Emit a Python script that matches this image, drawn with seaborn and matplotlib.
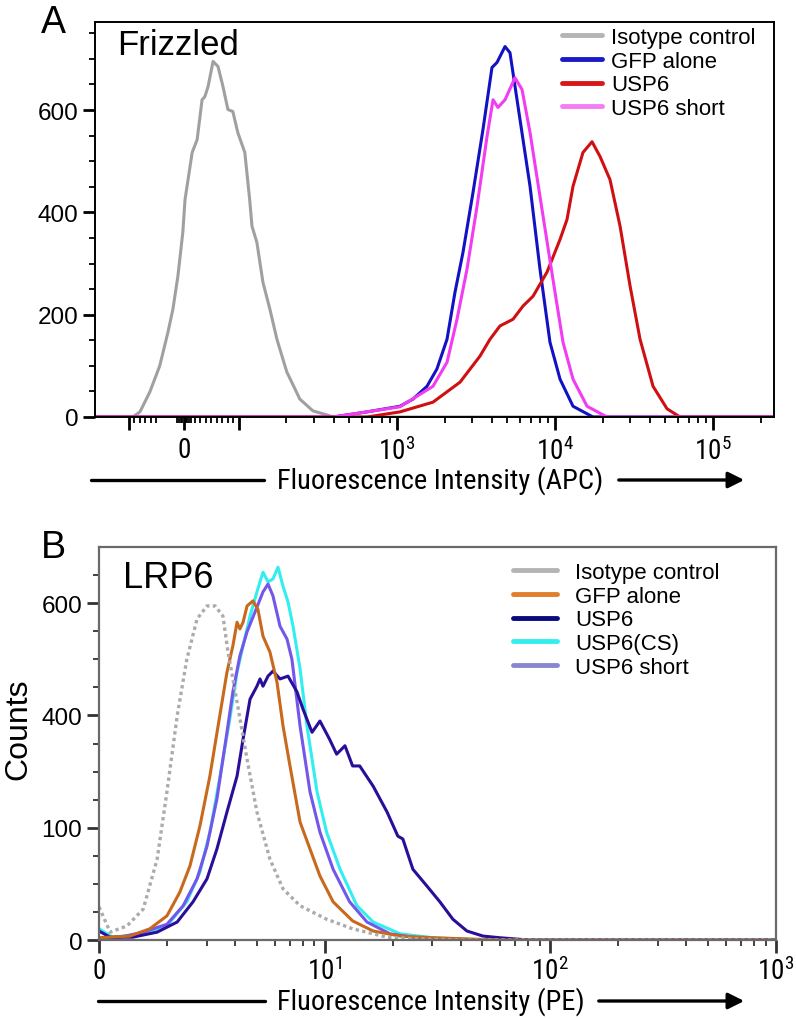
import numpy as np
import pandas as pd
import matplotlib
matplotlib.use("Agg")
import matplotlib.pyplot as plt
import seaborn as sns
from matplotlib import font_manager as fm
from matplotlib.lines import Line2D
from matplotlib.patches import FancyArrowPatch

# ---------------- data: panel A (Frizzled, APC, logicle-like axis) ----------------
A_labels = ["Isotype control", "GFP alone", "USP6", "USP6 short"]
A_colors = ["#a0a0a0", "#1212c4", "#d01010", "#f23cf2"]

A_iso_x = [-164, -93, -80, -62, -44, -29, -20, -11, -2, 2, 15, 24, 33, 38, 44, 53, 62, 71, 80, 89, 98,
           109, 117, 121, 130, 142, 157, 174, 201, 243, 294, 361, 394, 1000, 10000, 243000]
A_iso_y = [0, 0, 10, 49, 100, 166, 211, 275, 361, 425, 517, 542, 620, 626, 646, 695, 685, 646, 601, 597, 556,
           517, 425, 373, 341, 263, 211, 152, 88, 35, 12, 4, 0, 0, 0, 0]

A_gfp_x = [-164, 394, 646, 1045, 1263, 1549, 1791, 2074, 2330, 2618, 3029, 3502, 3992, 4297, 4828,
           5190, 6008, 6950, 8035, 9296, 10760, 13000, 17400, 243000]
A_gfp_y = [0, 0, 10, 21, 35, 60, 94, 152, 244, 322, 439, 562, 683, 693, 724,
           712, 581, 451, 289, 146, 74, 21, 0, 0]

A_usp6_x = [-164, 646, 1045, 1690, 2506, 3352, 3880, 4487, 5423, 6281, 7260, 8897, 10760, 11910, 13000,
            15030, 17150, 19280, 22280, 25800, 29850, 34520, 41720, 51160, 61800, 243000]
A_usp6_y = [0, 0, 10, 29, 68, 119, 152, 178, 191, 217, 236, 283, 347, 386, 451,
            517, 538, 509, 464, 373, 256, 152, 60, 16, 0, 0]

A_short_x = [-164, 394, 646, 1045, 1690, 2074, 2399, 2775, 3212, 3714, 4054, 4355, 4828, 5582, 6186,
             6950, 8035, 9707, 11240, 13000, 15950, 21340, 243000]
A_short_y = [0, 0, 10, 20, 60, 107, 191, 289, 412, 548, 620, 605, 620, 663, 640,
             556, 431, 269, 146, 74, 21, 0, 0]

A_xticks = [-100, 0, 100, 1000, 10000, 100000]
A_xticklabels = ["", "0", "", r"$\mathrm{10^{3}}$", r"$\mathrm{10^{4}}$", r"$\mathrm{10^{5}}$"]
A_xminor = [-90, -80, -70, -60, -50, -12, -9, -6, -3, 3, 6, 9, 12, 20, 30, 40, 50, 60, 70, 80, 90,
            200, 300, 400, 500, 600, 700, 800, 900, 2000, 3000, 4000, 5000, 6000, 7000, 8000, 9000,
            20000, 30000, 40000, 50000, 60000, 70000, 80000, 90000, 200000]
A_yticks = [0, 200, 400, 600]
A_yticklabels = ["0", "200", "400", "600"]

# ---------------- data: panel B (LRP6, PE, log axis) ----------------
B_labels = ["Isotype control", "GFP alone", "USP6", "USP6(CS)", "USP6 short"]
B_colors = ["#ababab", "#c8691c", "#2a0e9a", "#33eeee", "#7356ea"]
B_legend_colors = ["#b4b4b4", "#e0802e", "#0a0a80", "#33eeee", "#8888d0"]

B_iso_x = [1.0, 1.12, 1.33, 1.57, 1.81, 2.0, 2.22, 2.45, 2.72, 3.01, 3.27, 3.54, 3.73, 4.09, 4.53, 5.01,
           5.72, 6.54, 7.78, 10.2, 13.3, 18.9, 25.6, 40, 1000]
B_iso_y = [59, 14, 25, 55, 144, 264, 399, 500, 572, 595, 595, 577, 513, 424, 322, 228,
           144, 91, 61, 37, 20, 5, 2, 0, 0]

B_gfp_x = [1.0, 1.37, 1.68, 2.0, 2.28, 2.53, 2.80, 3.10, 3.37, 3.69, 3.92, 4.09, 4.21, 4.35, 4.53, 4.81,
           5.06, 5.33, 5.72, 6.15, 6.54, 7.02, 7.78, 8.61, 9.53, 10.9, 13.3, 16.4, 21.6, 30.2, 60, 1000]
B_gfp_y = [4, 7, 20, 43, 85, 132, 203, 292, 381, 477, 524, 566, 554, 566, 595, 604,
           589, 541, 513, 459, 381, 310, 210, 162, 114, 68, 34, 16, 7, 4, 0, 0]

B_usp6_x = [1.0, 1.12, 1.41, 1.81, 2.22, 2.61, 3.01, 3.33, 3.69, 4.09, 4.35, 4.67, 5.01, 5.17, 5.33, 5.61,
            5.90, 6.34, 6.88, 7.54, 8.02, 8.79, 9.53, 10.5, 11.3, 12.3, 13.3, 14.3, 16.4, 18.9, 21.1,
            22.2, 24.6, 28.4, 32.4, 37.0, 42.7, 50.3, 59.8, 80, 1000]
B_usp6_y = [16, 5, 5, 14, 32, 68, 109, 162, 228, 292, 358, 429, 452, 465, 452, 470,
            479, 465, 470, 442, 411, 370, 390, 358, 331, 346, 310, 310, 274, 228, 185,
            180, 126, 96, 68, 37, 16, 7, 4, 0, 0]

B_cs_x = [1.0, 1.15, 1.57, 2.0, 2.45, 2.80, 3.10, 3.44, 3.80, 4.09, 4.35, 4.67, 5.01, 5.33, 5.61, 5.90,
          6.21, 6.54, 6.88, 7.24, 7.78, 8.35, 9.25, 10.2, 11.7, 13.9, 16.4, 21.6, 30.2, 50, 1000]
B_cs_y = [20, 5, 11, 25, 68, 121, 192, 292, 394, 477, 524, 577, 620, 655, 638, 643,
          664, 630, 602, 559, 483, 381, 264, 192, 126, 61, 32, 11, 4, 0, 0]

B_short_x = [1.0, 1.24, 1.57, 2.0, 2.36, 2.72, 3.01, 3.33, 3.69, 3.92, 4.21, 4.53, 4.91, 5.33, 5.61, 5.90,
             6.34, 6.81, 7.16, 7.78, 8.61, 9.53, 10.9, 12.9, 15.4, 19.5, 25.6, 50, 1000]
B_short_y = [3, 5, 14, 28, 61, 109, 167, 251, 370, 442, 506, 549, 584, 620, 634, 613,
             559, 536, 500, 381, 264, 192, 126, 68, 32, 11, 4, 0, 0]

B_xticks = [1, 10, 100, 1000]
B_xticklabels = ["0", r"$\mathrm{10^{1}}$", r"$\mathrm{10^{2}}$", r"$\mathrm{10^{3}}$"]
B_yticks = [0, 200, 400, 600]
B_yticklabels = ["0", "100", "400", "600"]

# ---------------- style ----------------
sns.set_theme(style="white")
installed = {f.name for f in fm.fontManager.ttflist}
NARROW_FAM, TSIZE, LSIZE = "Liberation Sans", 18, 18.5
for cand, tsz, lsz in [("Liberation Sans Narrow", 20, 21), ("Roboto Condensed", 19.5, 20.5),
                       ("Open Sans Condensed", 19, 20)]:
    if cand in installed:
        NARROW_FAM, TSIZE, LSIZE = cand, tsz, lsz
        break

plt.rcParams["font.family"] = ["Liberation Sans", "DejaVu Sans"]
plt.rcParams["mathtext.fontset"] = "custom"
plt.rcParams["mathtext.rm"] = NARROW_FAM
plt.rcParams["mathtext.it"] = NARROW_FAM
plt.rcParams["text.color"] = "black"
plt.rcParams["axes.labelcolor"] = "black"
plt.rcParams["xtick.color"] = "black"
plt.rcParams["ytick.color"] = "black"
NARROW = [NARROW_FAM, "DejaVu Sans"]

W, H = 796, 1020
fig = plt.figure(figsize=(W / 100, H / 100), dpi=100)
fig.patch.set_facecolor("white")

def fx(px):
    return px / W

def fy(py):
    return 1 - py / H

axA = fig.add_axes([fx(95), fy(418), fx(774) - fx(95), fy(23) - fy(418)])
axB = fig.add_axes([fx(99), fy(941), fx(776) - fx(99), fy(548) - fy(941)])

# ---------------- panel A ----------------
for xs, ys, c in [(A_iso_x, A_iso_y, A_colors[0]), (A_gfp_x, A_gfp_y, A_colors[1]),
                  (A_usp6_x, A_usp6_y, A_colors[2]), (A_short_x, A_short_y, A_colors[3])]:
    sns.lineplot(x=xs, y=ys, ax=axA, color=c, lw=2.2, sort=False, estimator=None)

axA.set_xscale("symlog", linthresh=100, linscale=0.313)
axA.set_xlim(-164, 243000)
axA.set_ylim(0, 772)
axA.set_xticks(A_xticks, A_xticklabels)
axA.set_xticks(A_xminor, minor=True)
axA.set_yticks(A_yticks, A_yticklabels)
axA.set_yticks(np.arange(50, 751, 50), minor=True)
axA.set_xlabel("")
axA.set_ylabel("")
for s in axA.spines.values():
    s.set_color("black")
    s.set_linewidth(1.4)
axA.tick_params(axis="both", which="major", direction="out", length=9, width=2.0, color="black",
                labelcolor="black", bottom=True, left=True, labelsize=17.5, pad=3)
axA.tick_params(axis="both", which="minor", direction="out", length=4.5, width=1.3, color="black",
                bottom=True, left=True)
axA.tick_params(axis="x", which="major", labelsize=TSIZE, pad=5)
for lbl in axA.get_xticklabels():
    lbl.set_fontfamily(NARROW)

hA = [Line2D([0], [0], color=c, lw=3.5) for c in ["#b4b4b4", "#1a1ac8", "#d81818", "#f47cf4"]]
axA.legend(hA, A_labels, loc="upper left", bbox_to_anchor=((562 - 95) / 679, (418 - 28) / 395),
           frameon=False, fontsize=16, handlelength=1.8, handletextpad=0.4, labelspacing=0.12,
           borderpad=0, borderaxespad=0, labelcolor="black")
axA.text((117 - 95) / 679, (418 - 55) / 395, "Frizzled", transform=axA.transAxes, fontsize=25,
         ha="left", va="baseline", color="black")

# ---------------- panel B ----------------
sns.lineplot(x=B_cs_x, y=B_cs_y, ax=axB, color=B_colors[3], lw=2.2, sort=False, estimator=None)
sns.lineplot(x=B_short_x, y=B_short_y, ax=axB, color=B_colors[4], lw=2.2, sort=False, estimator=None)
sns.lineplot(x=B_usp6_x, y=B_usp6_y, ax=axB, color=B_colors[2], lw=2.2, sort=False, estimator=None)
sns.lineplot(x=B_gfp_x, y=B_gfp_y, ax=axB, color=B_colors[1], lw=2.2, sort=False, estimator=None)
sns.lineplot(x=B_iso_x, y=B_iso_y, ax=axB, color=B_colors[0], lw=2.4, sort=False, estimator=None,
             linestyle=(0, (1, 1)))

axB.set_xscale("log")
axB.set_xlim(1, 1000)
axB.set_ylim(0, 700)
axB.set_xticks(B_xticks, B_xticklabels)
axB.set_xticks([m * d for d in [1, 10, 100] for m in range(2, 10)], minor=True)
axB.xaxis.set_minor_formatter(plt.NullFormatter())
axB.set_yticks(B_yticks, B_yticklabels)
axB.set_yticks(np.arange(50, 651, 50), minor=True)
axB.set_xlabel("")
axB.set_ylabel("")
for s in axB.spines.values():
    s.set_color("#6a6a6a")
    s.set_linewidth(1.6)
axB.tick_params(axis="both", which="major", direction="out", length=9, width=2.0, color="#333333",
                labelcolor="black", bottom=True, left=True, labelsize=17.5, pad=3)
axB.tick_params(axis="both", which="minor", direction="out", length=4.5, width=1.3, color="#333333",
                bottom=True, left=True)
axB.tick_params(axis="x", which="major", labelsize=TSIZE, pad=3)
for lbl in axB.get_xticklabels():
    lbl.set_fontfamily(NARROW)

hB = [Line2D([0], [0], color=c, lw=3.5) for c in B_legend_colors]
axB.legend(hB, B_labels, loc="upper left", bbox_to_anchor=((513 - 99) / 677, (941 - 563) / 393),
           frameon=False, fontsize=16, handlelength=2.0, handletextpad=0.8, labelspacing=0.12,
           borderpad=0, borderaxespad=0, labelcolor="black")
axB.text((123 - 99) / 677, (941 - 588) / 393, "LRP6", transform=axB.transAxes, fontsize=26,
         ha="left", va="baseline", color="black")

# ---------------- figure-level annotations ----------------
fig.text(fx(53), fy(23), "A", fontsize=27, ha="center", va="center", color="black")
fig.text(fx(53), fy(548), "B", fontsize=27, ha="center", va="center", color="black")
fig.text(fx(18), fy(729), "Counts", fontsize=23, rotation=90, ha="center", va="center", color="black")

def axis_arrow(y, x0, x1, x2, x3, label):
    fig.add_artist(Line2D([fx(x0), fx(x1)], [fy(y), fy(y)], transform=fig.transFigure,
                          color="black", lw=2.4))
    fig.add_artist(FancyArrowPatch((fx(x2), fy(y)), (fx(x3), fy(y)), transform=fig.transFigure,
                                   arrowstyle="-|>", mutation_scale=24, lw=2.4, color="black"))
    fig.text(fx((x1 + x2) / 2), fy(y), label, fontsize=LSIZE, ha="center", va="center",
             family=NARROW, color="black")

axis_arrow(481, 91, 264, 616, 747, "Fluorescence Intensity (APC)")
axis_arrow(1002, 98, 265, 596, 747, "Fluorescence Intensity (PE)")

fig.savefig("out.png", dpi=100)
